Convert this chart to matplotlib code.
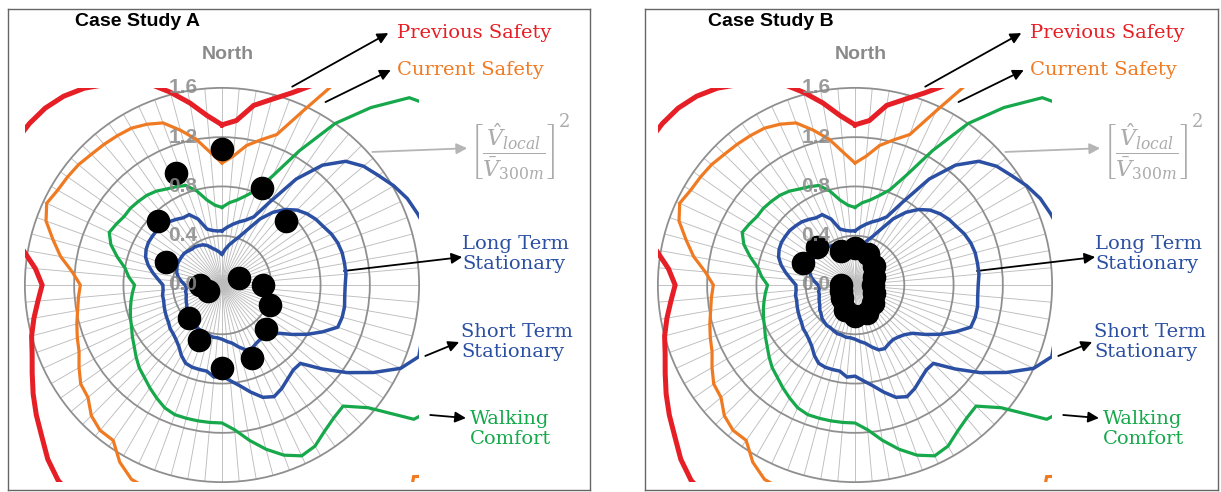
import numpy as np
import matplotlib.pyplot as plt
from matplotlib.patches import Rectangle, Circle

plt.rcParams['mathtext.fontset'] = 'dejavuserif'

# wind directions (deg, clockwise from North) for the criteria contours
angles = np.arange(0, 360, 5)

previous_safety = [
    1.30, 1.34, 1.48, 1.56, 1.66, 1.80, 1.95, 2.05, 2.15, 2.35, 2.40, 2.30,
    2.20, 2.10, 2.05, 2.00, 1.95, 1.95, 1.95, 1.95, 2.00, 2.05, 2.15, 2.30,
    2.45, 2.60, 2.70, 2.75, 2.70, 2.60, 2.50, 2.40, 2.30, 2.25, 2.20, 2.20,
    2.20, 2.20, 2.20, 2.20, 2.20, 2.20, 2.15, 2.10, 2.07, 2.00, 1.91, 1.84,
    1.77, 1.70, 1.64, 1.60, 1.55, 1.50, 1.46, 1.52, 1.64, 1.78, 1.90, 1.98,
    2.02, 2.04, 2.04, 2.03, 2.00, 1.95, 1.88, 1.82, 1.74, 1.62, 1.50, 1.38]

current_safety = [
    0.99, 1.05, 1.15, 1.22, 1.30, 1.56, 1.95, 2.10, 2.25, 2.35, 2.30, 2.20,
    2.10, 2.00, 1.90, 1.85, 1.80, 1.80, 1.80, 1.80, 1.85, 1.90, 1.95, 2.05,
    2.15, 2.30, 2.40, 2.20, 2.35, 2.30, 2.20, 2.05, 1.95, 1.90, 1.85, 1.80,
    1.80, 1.80, 1.82, 1.80, 1.76, 1.74, 1.66, 1.54, 1.54, 1.50, 1.42, 1.40,
    1.34, 1.28, 1.25, 1.22, 1.19, 1.17, 1.15, 1.22, 1.33, 1.42, 1.52, 1.57,
    1.54, 1.53, 1.52, 1.50, 1.49, 1.48, 1.47, 1.44, 1.40, 1.30, 1.20, 1.08]

walking_comfort = [
    0.63, 0.67, 0.70, 0.75, 0.82, 0.98, 1.26, 1.60, 1.88, 2.15, 2.25, 2.10,
    2.00, 1.95, 1.90, 1.85, 1.82, 1.80, 1.80, 1.80, 1.82, 1.85, 1.90, 1.92,
    2.00, 1.90, 1.55, 1.39, 1.41, 1.45, 1.51, 1.53, 1.47, 1.38, 1.28, 1.18,
    1.12, 1.12, 1.12, 1.12, 1.12, 1.10, 1.06, 1.02, 0.98, 0.95, 0.91, 0.87,
    0.84, 0.81, 0.79, 0.77, 0.75, 0.73, 0.71, 0.76, 0.80, 0.88, 0.96, 1.01,
    0.99, 0.97, 0.97, 0.96, 0.95, 0.93, 0.90, 0.88, 0.86, 0.79, 0.70, 0.65]

long_term = [
    0.25, 0.29, 0.33, 0.37, 0.42, 0.50, 0.62, 0.72, 0.80, 0.86, 0.90, 0.93,
    0.95, 0.98, 1.00, 1.01, 1.01, 1.01, 1.00, 1.00, 1.01, 1.01, 1.00, 0.90,
    0.80, 0.70, 0.61, 0.57, 0.55, 0.54, 0.55, 0.57, 0.56, 0.52, 0.48, 0.46,
    0.44, 0.43, 0.43, 0.42, 0.42, 0.41, 0.40, 0.40, 0.39, 0.38, 0.36, 0.35,
    0.33, 0.32, 0.31, 0.30, 0.30, 0.29, 0.30, 0.33, 0.36, 0.38, 0.39, 0.40,
    0.40, 0.40, 0.40, 0.39, 0.38, 0.38, 0.37, 0.36, 0.34, 0.31, 0.29, 0.27]

short_term = [
    0.44, 0.47, 0.50, 0.53, 0.56, 0.61, 0.78, 1.05, 1.27, 1.42, 1.50, 1.55,
    1.61, 1.66, 1.69, 1.72, 1.75, 1.76, 1.76, 1.75, 1.72, 1.68, 1.70, 1.60,
    1.42, 1.24, 1.06, 0.90, 0.90, 0.93, 0.97, 1.00, 0.97, 0.90, 0.83, 0.78,
    0.74, 0.75, 0.71, 0.71, 0.71, 0.70, 0.66, 0.61, 0.58, 0.56, 0.55, 0.53,
    0.52, 0.51, 0.50, 0.49, 0.49, 0.48, 0.48, 0.52, 0.57, 0.62, 0.66, 0.68,
    0.69, 0.69, 0.69, 0.68, 0.67, 0.65, 0.63, 0.63, 0.57, 0.47, 0.45, 0.44]

# measured [V_local / V_300m]^2 at 16 directions
dot_angles = np.arange(0, 360, 22.5)
speedup_a = [1.10, 0.85, 0.74, 0.15, 0.33, 0.42, 0.50, 0.64,
             0.67, 0.48, 0.38, 0.12, 0.18, 0.49, 0.74, 0.98]
speedup_b = [0.30, 0.27, 0.22, 0.17, 0.15, 0.17, 0.21, 0.25,
             0.25, 0.22, 0.15, 0.12, 0.11, 0.46, 0.44, 0.30]

rings = [0.4, 0.8, 1.2, 1.6]
ring_labels = ['0.0', '0.4', '0.8', '1.2', '1.6']

RED = '#e61e25'
ORANGE = '#f07a22'
GREEN = '#16a84b'
BLUE = '#2b4fa2'
GREY = '#8a8a8a'

S = 123.2  # pixels per unit of radius


def to_xy(theta, r, close=True):
    t = np.radians(np.asarray(theta, dtype=float))
    r = np.asarray(r, dtype=float)
    x, y = r * np.sin(t), r * np.cos(t)
    if close:
        x, y = np.append(x, x[0]), np.append(y, y[0])
    return x, y


def draw_panel(ax, title, speedup):
    clip = Rectangle((-1.6, -1.6), 3.2, 3.2, transform=ax.transData)

    # spokes every 5 degrees and grey rings
    for a in angles:
        x, y = to_xy([a], [1.6], close=False)
        ax.plot([0, x[0]], [0, y[0]], color='#bdbdbd', lw=0.65, zorder=1)
    for r in rings:
        ax.add_patch(Circle((0, 0), r, fill=False, ec='#8f8f8f', lw=1.3, zorder=2))

    curves = [(previous_safety, RED, 3.6),
              (current_safety, ORANGE, 2.3),
              (walking_comfort, GREEN, 2.3),
              (short_term, BLUE, 2.5),
              (long_term, BLUE, 2.5)]
    for vals, col, lw in curves:
        x, y = to_xy(angles, vals)
        line, = ax.plot(x, y, color=col, lw=lw, zorder=4, solid_joinstyle='miter')
        line.set_clip_path(clip)

    x, y = to_xy(dot_angles, speedup, close=False)
    ax.plot(x, y, 'o', color='black', ms=16, zorder=5)

    for i, lab in enumerate(ring_labels):
        ax.text(-0.2, i * 0.4, lab, ha='right', va='center', color=GREY,
                fontsize=15, fontweight='bold', family='Liberation Sans',
                alpha=0.85, zorder=6)
    ax.text(0.05, 1.87, 'North', ha='center', va='center', color=GREY,
            fontsize=14, fontweight='bold', family='Liberation Sans')
    ax.text(-1.19, 2.135, title, ha='left', va='center', color='black',
            fontsize=14, fontweight='bold', family='Liberation Sans')

    serif = dict(family='DejaVu Serif', fontsize=14, ha='left', va='center')
    ax.text(1.42, 2.045, 'Previous Safety', color=RED, **serif)
    ax.text(1.42, 1.745, 'Current Safety', color=ORANGE, **serif)
    ax.text(1.95, 0.25, 'Long Term\nStationary', color=BLUE, linespacing=1.15, **serif)
    ax.text(1.94, -0.46, 'Short Term\nStationary', color=BLUE, linespacing=1.15, **serif)
    ax.text(2.01, -1.17, 'Walking\nComfort', color=GREEN, linespacing=1.15, **serif)
    ax.text(2.36, 1.08, r'$\left[\dfrac{\hat{V}_{local}}{\bar{V}_{300m}}\right]$',
            color='#ababab', fontsize=16, ha='center', va='center')
    ax.text(2.78, 1.32, '2', color='#ababab', fontsize=13, family='DejaVu Serif',
            ha='center', va='center')

    arrows = [((0.57, 1.61), (1.35, 2.045), 'black'),
              ((0.84, 1.485), (1.37, 1.745), 'black'),
              ((1.22, 1.08), (1.99, 1.11), '#b5b5b5'),
              ((0.99, 0.114), (1.95, 0.227), 'black'),
              ((1.65, -0.576), (1.925, -0.463), 'black'),
              ((1.69, -1.055), (1.98, -1.08), 'black')]
    for start, end, col in arrows:
        ax.annotate('', xy=end, xytext=start, annotation_clip=False,
                    arrowprops=dict(arrowstyle='-|>', color=col, lw=1.3,
                                    mutation_scale=16, shrinkA=0, shrinkB=0))

    ax.set_aspect('equal')
    ax.set_xticks([])
    ax.set_yticks([])
    for sp in ax.spines.values():
        sp.set_color('#666666')
        sp.set_linewidth(1.0)


fig = plt.figure(figsize=(12.21, 4.92), dpi=100)
W, H = 1221, 492
panels = [('Case Study A', speedup_a, 8, 590, 222),
          ('Case Study B', speedup_b, 645, 1218, 855)]
top, bottom, cy = 9, 490, 285
for title, sp, left, right, cx in panels:
    ax = fig.add_axes([left / W, (H - bottom) / H, (right - left) / W, (bottom - top) / H])
    ax.set_xlim((left - cx) / S, (right - cx) / S)
    ax.set_ylim((cy - bottom) / S, (cy - top) / S)
    draw_panel(ax, title, sp)

fig.savefig('out.png', dpi=100, facecolor='white')
